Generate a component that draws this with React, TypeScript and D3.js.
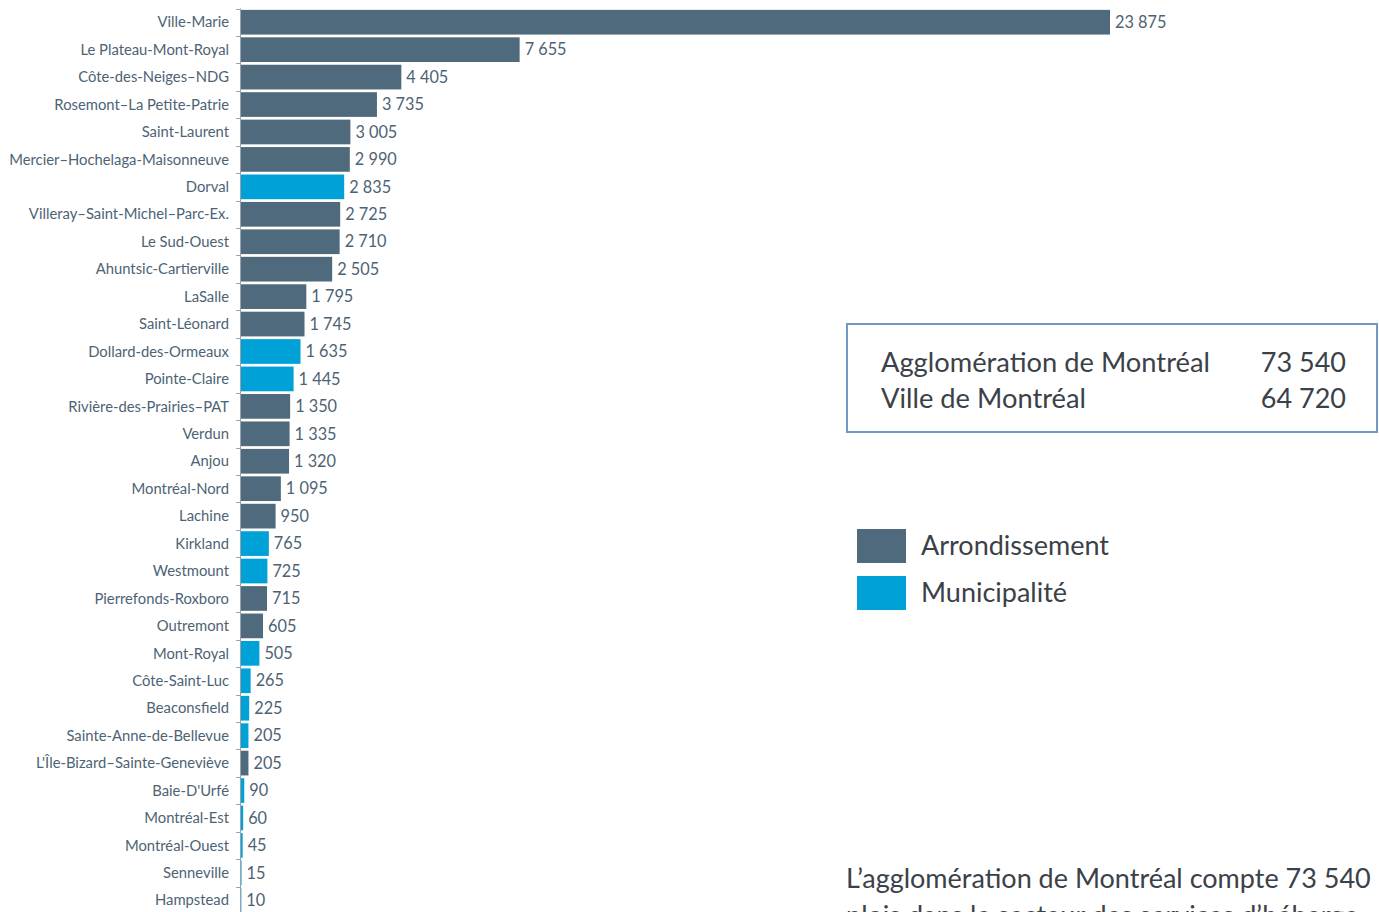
import React from "react";
import * as d3 from "d3";

const categories = [
  "Ville-Marie", "Le Plateau-Mont-Royal", "Côte-des-Neiges–NDG", "Rosemont–La Petite-Patrie",
  "Saint-Laurent", "Mercier–Hochelaga-Maisonneuve", "Dorval", "Villeray–Saint-Michel–Parc-Ex.",
  "Le Sud-Ouest", "Ahuntsic-Cartierville", "LaSalle", "Saint-Léonard", "Dollard-des-Ormeaux",
  "Pointe-Claire", "Rivière-des-Prairies–PAT", "Verdun", "Anjou", "Montréal-Nord", "Lachine",
  "Kirkland", "Westmount", "Pierrefonds-Roxboro", "Outremont", "Mont-Royal", "Côte-Saint-Luc",
  "Beaconsfield", "Sainte-Anne-de-Bellevue", "L'Île-Bizard–Sainte-Geneviève", "Baie-D'Urfé",
  "Montréal-Est", "Montréal-Ouest", "Senneville", "Hampstead",
];
const values = [
  23875, 7655, 4405, 3735, 3005, 2990, 2835, 2725, 2710, 2505, 1795, 1745, 1635, 1445, 1350,
  1335, 1320, 1095, 950, 765, 725, 715, 605, 505, 265, 225, 205, 205, 90, 60, 45, 15, 10,
];
const types = [
  "A", "A", "A", "A", "A", "A", "M", "A", "A", "A", "A", "A", "M", "M", "A", "A", "A", "A", "A",
  "M", "M", "A", "A", "M", "M", "M", "M", "A", "M", "M", "M", "M", "M",
];
const legendLabels = ["Arrondissement", "Municipalité"];
const summaryLabels = ["Agglomération de Montréal", "Ville de Montréal"];
const summaryValues = [73540, 64720];

const COLORS: Record<string, string> = { A: "#4f6a7c", M: "#00a1d7" };
const FONT = "Lato, 'Open Sans', sans-serif";
const fmt = (v: number) => d3.format(",")(v).replace(/,/g, " ");

export default function App() {
  const x = d3.scaleLinear().domain([0, 23875]).range([241, 1110]);
  const y = d3.scaleBand<string>().domain(categories).range([8.5, 8.5 + 27.44 * 33]).paddingInner(0.1).paddingOuter(0.05);
  const step = y.step();
  const ticks = d3.range(categories.length + 1).map((i) => 8.5 + i * step);
  return (
    <svg width={1379} height={912} style={{ position: "absolute", left: 0, top: 0, background: "#fff" }} fontFamily={FONT}>
      {categories.map((c, i) => (
        <g key={c}>
          <rect x={x(0)} y={y(c)!} width={Math.max(0, x(values[i]) - x(0))} height={y.bandwidth()} fill={COLORS[types[i]]} />
          <text x={229} y={y(c)! + y.bandwidth() / 2} dy="0.35em" textAnchor="end" fontSize={14.8} fill="#4d6374">{c}</text>
          <text x={x(values[i]) + 5} y={y(c)! + y.bandwidth() / 2} dy="0.35em" fontSize={16.3} fill="#4d6374">{fmt(values[i])}</text>
        </g>
      ))}
      <line x1={240.5} x2={240.5} y1={ticks[0]} y2={ticks[ticks.length - 1]} stroke="#9aa3ab" strokeWidth={1} />
      {ticks.map((t, i) => (
        <line key={i} x1={236} x2={240.5} y1={Math.round(t) + 0.5} y2={Math.round(t) + 0.5} stroke="#9aa3ab" strokeWidth={1} />
      ))}
      <rect x={847} y={324} width={530} height={108} fill="none" stroke="#6f98c6" strokeWidth={2} />
      {summaryLabels.map((s, i) => (
        <g key={s}>
          <text x={881} y={372 + i * 36} fontSize={27.3} fill="#3b4148">{s}</text>
          <text x={1346} y={372 + i * 36} fontSize={27} fill="#3b4148" textAnchor="end">{fmt(summaryValues[i])}</text>
        </g>
      ))}
      {legendLabels.map((l, i) => (
        <g key={l}>
          <rect x={857} y={529 + i * 47} width={49} height={34} fill={COLORS[i === 0 ? "A" : "M"]} />
          <text x={921} y={555 + i * 47} fontSize={27} fill="#3b4148">{l}</text>
        </g>
      ))}
      <text x={846} y={888} fontSize={27} fill="#3b4148">L’agglomération de Montréal compte 73 540</text>
      <text x={846} y={925} fontSize={27} fill="#3b4148">plois dans le secteur des services d’héberge</text>
    </svg>
  );
}
